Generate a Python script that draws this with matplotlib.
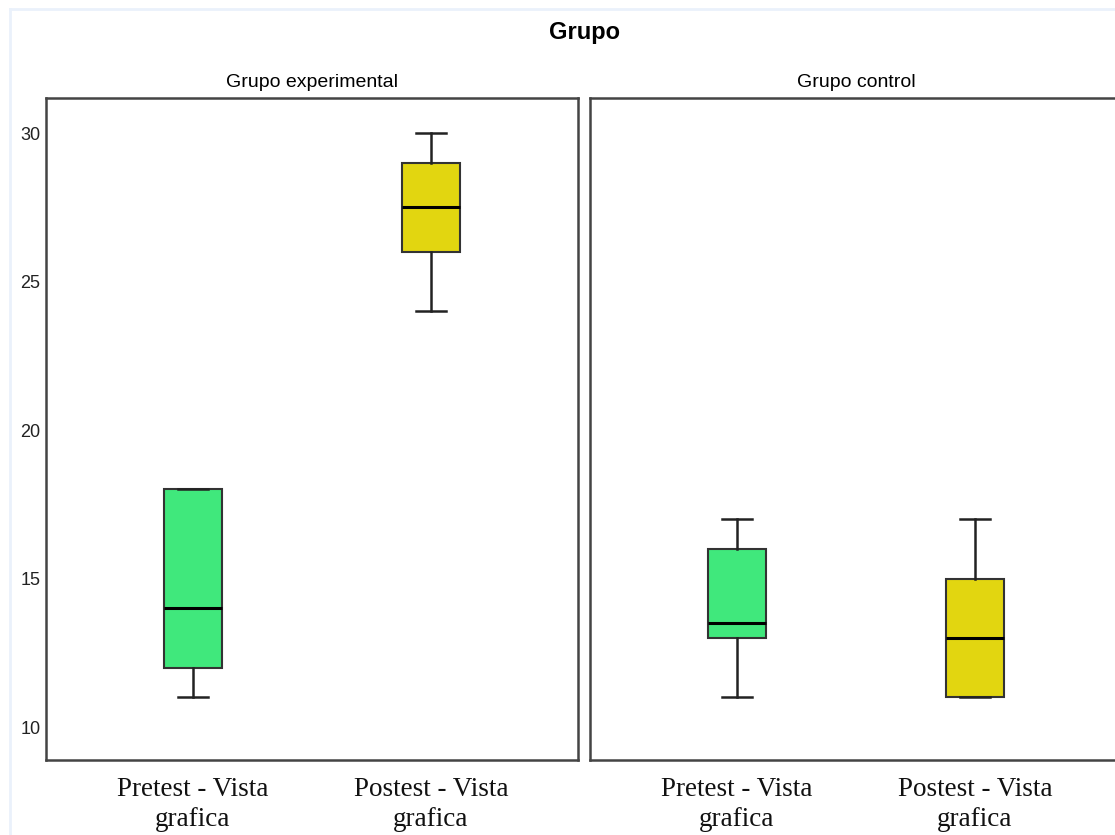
import matplotlib
matplotlib.use("Agg")
import matplotlib.pyplot as plt
from matplotlib import font_manager
from matplotlib.lines import Line2D

# data
groups = ["Grupo experimental", "Grupo control"]
categories = ["Pretest - Vista\ngrafica", "Postest - Vista\ngrafica"]
whislo = [[11, 24], [11, 11]]
q1 = [[12, 26], [13, 11]]
med = [[14, 27.5], [13.5, 13]]
q3 = [[18, 29], [16, 15]]
whishi = [[18, 30], [17, 17]]
yticks = [10, 15, 20, 25, 30]

colors = ["#40E87C", "#E2D610"]

names = {f.name for f in font_manager.fontManager.ttflist}
narrow = "Liberation Sans Narrow" if "Liberation Sans Narrow" in names else "Liberation Sans"

fig = plt.figure(figsize=(11.15, 8.35), dpi=100)
fig.patch.set_facecolor("white")

# faint frame of the screenshot
fig.add_artist(Line2D([10 / 1115, 10 / 1115], [0, 1 - 9 / 835], color="#EAF1FB", lw=2, transform=fig.transFigure))
fig.add_artist(Line2D([10 / 1115, 1], [1 - 9 / 835, 1 - 9 / 835], color="#EAF1FB", lw=2, transform=fig.transFigure))

fig.text(584 / 1115, 1 - 33 / 835, "Grupo", ha="center", va="center",
         fontsize=17, fontweight="bold", family="Liberation Sans")

lefts = [46 / 1115, 590 / 1115]
for g, name in enumerate(groups):
    ax = fig.add_axes([lefts[g], 1 - 760 / 835, 532 / 1115, 662 / 835])
    stats = []
    for i in range(len(categories)):
        stats.append({"med": med[g][i], "q1": q1[g][i], "q3": q3[g][i],
                      "whislo": whislo[g][i], "whishi": whishi[g][i], "fliers": []})
    bp = ax.bxp(stats, positions=[1, 2], widths=0.244, patch_artist=True,
                showfliers=False,
                boxprops=dict(edgecolor="#333333", linewidth=1.5),
                medianprops=dict(color="black", linewidth=2.2),
                whiskerprops=dict(color="#222222", linewidth=1.8),
                capprops=dict(color="#222222", linewidth=1.8),
                capwidths=0.126)
    for patch, c in zip(bp["boxes"], colors):
        patch.set_facecolor(c)

    ax.set_xlim(0.382, 2.618)
    ax.set_ylim(8.89, 31.18)
    ax.set_xticks([1, 2])
    ax.set_xticklabels(categories, family="Liberation Serif", fontsize=19.5,
                       linespacing=1.3, color="#111111")
    ax.tick_params(axis="x", length=0, pad=12)
    ax.set_yticks(yticks)
    if g == 0:
        ax.set_yticklabels([str(t) for t in yticks], family=narrow, fontsize=13, color="#222222")
        ax.tick_params(axis="y", length=0, pad=4)
    else:
        ax.tick_params(axis="y", length=0, labelleft=False)
    for s in ax.spines.values():
        s.set_color("#444444")
        s.set_linewidth(1.8)
    ax.set_title(name, family=narrow, fontsize=14, pad=8)

fig.savefig("out.png", dpi=100)
